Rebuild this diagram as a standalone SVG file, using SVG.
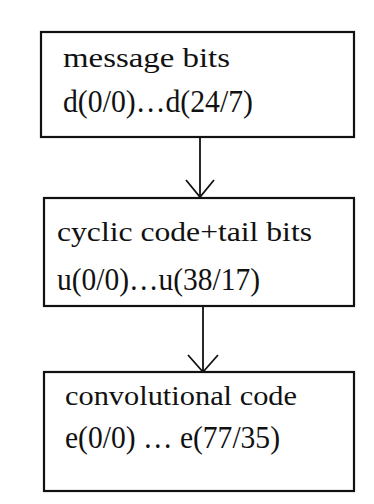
<svg xmlns="http://www.w3.org/2000/svg" width="374" height="504" viewBox="0 0 374 504">
<style>
.box{fill:#fff;stroke:#111;stroke-width:2.2}
.t{font-family:"Liberation Serif","Times New Roman",serif;font-size:28px;fill:#111}
.t2{font-family:"Liberation Serif","Times New Roman",serif;font-size:31px;fill:#111}
.c{fill:none;stroke:#111;stroke-width:1.8}
</style>
<rect width="374" height="504" fill="#fff"/>
<g id="connectors">
<line class="c" x1="200" y1="137" x2="200" y2="197"/>
<polyline class="c" points="186,180 200,197 214,180"/>
<line class="c" x1="203" y1="306" x2="203" y2="372"/>
<polyline class="c" points="188,355 203,372 218,355"/>
</g>
<g id="message-bits">
<rect class="box" x="41" y="32" width="313" height="105"/>
<text class="t" x="63" y="67" textLength="167" lengthAdjust="spacingAndGlyphs">message bits</text>
<text class="t2" x="63" y="112" textLength="190" lengthAdjust="spacingAndGlyphs">d(0/0)…d(24/7)</text>
</g>
<g id="cyclic-code">
<rect class="box" x="44" y="198" width="310" height="108"/>
<text class="t" x="57" y="241" textLength="255" lengthAdjust="spacingAndGlyphs">cyclic code+tail bits</text>
<text class="t2" x="57" y="290" textLength="203" lengthAdjust="spacingAndGlyphs">u(0/0)…u(38/17)</text>
</g>
<g id="convolutional-code">
<rect class="box" x="44" y="372" width="310" height="119"/>
<text class="t" x="65" y="405" textLength="232" lengthAdjust="spacingAndGlyphs">convolutional code</text>
<text class="t2" x="65" y="448" textLength="215" lengthAdjust="spacingAndGlyphs">e(0/0) … e(77/35)</text>
</g>
</svg>
